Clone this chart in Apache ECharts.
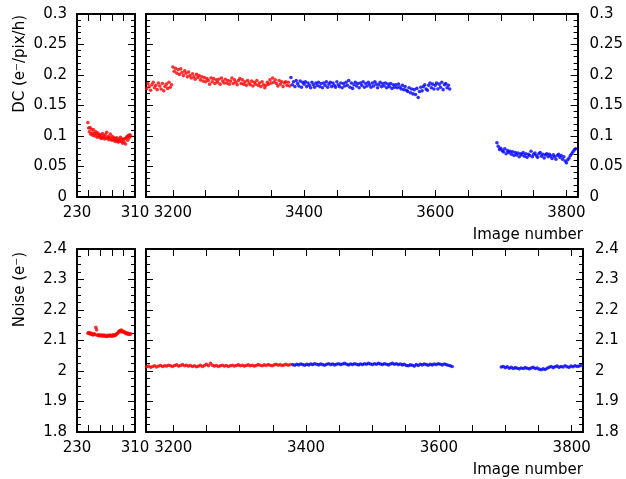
<!DOCTYPE html>
<html><head><meta charset="utf-8">
<script src="https://cdn.jsdelivr.net/npm/echarts@6/dist/echarts.min.js"></script>
<style>html,body{margin:0;padding:0;background:#fff}#c{width:626px;height:479px}</style>
</head><body><div id="c"></div>
<script>
const FONT = 'DejaVu Sans';

// ---- Image-number sequences (first image, step between plotted images) ----
const leftStart = 245, leftStep = 1;
const redRightStart = 3160;
const blueRightStart = 3380;
const blue2Start = 3694;
const dcStep = 2, noiseStep = 3;

// ---- Dark current (e-/pix/h) ----
const dcLeftRed = [
  0.122,0.113,0.107,0.114,0.103,0.111,0.105,0.101,0.110,0.104,
  0.100,0.107,0.103,0.098,0.105,0.100,0.102,0.097,0.101,0.096,
  0.104,0.098,0.100,0.095,0.102,0.097,0.106,0.096,0.099,0.094,
  0.098,0.103,0.095,0.093,0.099,0.094,0.097,0.092,0.096,0.091,
  0.097,0.093,0.090,0.095,0.092,0.098,0.091,0.095,0.088,0.094,
  0.090,0.096,0.087,0.097,0.099,0.093,0.101,0.097,0.102,0.100];
const dcRightRed = [
  0.178,0.186,0.181,0.175,0.184,0.188,0.179,0.183,0.176,0.187,
  0.182,0.177,0.186,0.174,0.181,0.185,0.178,0.188,0.180,0.184,
  0.213,0.206,0.211,0.203,0.209,0.201,0.210,0.204,0.199,0.207,
  0.203,0.197,0.205,0.199,0.195,0.202,0.197,0.193,0.201,0.196,
  0.199,0.192,0.197,0.190,0.196,0.189,0.194,0.191,0.185,0.195,
  0.189,0.194,0.186,0.192,0.188,0.193,0.185,0.195,0.190,0.187,
  0.193,0.187,0.191,0.185,0.190,0.195,0.186,0.192,0.188,0.184,
  0.191,0.194,0.186,0.192,0.185,0.189,0.183,0.191,0.187,0.184,
  0.190,0.182,0.188,0.185,0.191,0.183,0.187,0.181,0.189,0.184,
  0.179,0.183,0.188,0.185,0.192,0.187,0.195,0.188,0.192,0.186,
  0.182,0.191,0.185,0.189,0.181,0.187,0.189,0.183,0.188,0.182];
const dcRightBlue = [
  0.196,0.184,0.189,0.181,0.191,0.186,0.182,0.190,0.180,0.188,
  0.185,0.189,0.181,0.187,0.183,0.179,0.188,0.184,0.180,0.187,
  0.183,0.188,0.181,0.186,0.179,0.187,0.183,0.189,0.180,0.185,
  0.188,0.181,0.187,0.183,0.180,0.189,0.184,0.181,0.187,0.179,
  0.186,0.182,0.188,0.183,0.191,0.180,0.187,0.178,0.184,0.188,
  0.182,0.186,0.179,0.187,0.183,0.189,0.180,0.186,0.182,0.188,
  0.184,0.180,0.187,0.182,0.189,0.185,0.179,0.184,0.188,0.181,
  0.186,0.182,0.187,0.179,0.185,0.181,0.186,0.178,0.184,0.180,
  0.184,0.179,0.185,0.180,0.177,0.183,0.176,0.181,0.175,0.173,
  0.179,0.171,0.177,0.169,0.176,0.168,0.178,0.163,0.173,0.180,
  0.174,0.181,0.184,0.177,0.175,0.183,0.187,0.179,0.185,0.177,
  0.183,0.187,0.177,0.185,0.180,0.188,0.176,0.184,0.186,0.179,
  0.183,0.177];
const dcRightBlue2 = [
  0.089,0.083,0.078,0.080,0.076,0.074,0.079,0.071,0.076,0.073,
  0.075,0.070,0.074,0.068,0.073,0.069,0.072,0.066,0.071,0.069,
  0.073,0.067,0.071,0.065,0.070,0.068,0.075,0.066,0.070,0.072,
  0.068,0.065,0.071,0.073,0.067,0.070,0.064,0.069,0.071,0.066,
  0.070,0.067,0.063,0.069,0.066,0.062,0.068,0.070,0.065,0.068,
  0.062,0.066,0.059,0.056,0.061,0.064,0.068,0.071,0.074,0.077,
  0.079];

// ---- Noise (e-) ----
const noiseLeftRed = [
  2.124,2.126,2.122,2.125,2.121,2.123,2.120,2.118,2.121,2.122,
  2.119,2.143,2.135,2.118,2.116,2.119,2.117,2.115,2.118,2.116,
  2.117,2.114,2.118,2.116,2.115,2.113,2.117,2.115,2.114,2.116,
  2.118,2.115,2.117,2.114,2.116,2.119,2.115,2.118,2.117,2.120,
  2.122,2.124,2.127,2.130,2.132,2.129,2.134,2.131,2.128,2.130,
  2.126,2.128,2.124,2.122,2.125,2.121,2.123,2.120,2.122,2.121];
const noiseRightRed = [
  2.014,2.016,2.012,2.015,2.017,2.013,2.016,2.018,2.015,2.017,
  2.016,2.019,2.017,2.015,2.018,2.020,2.016,2.018,2.021,2.017,
  2.019,2.016,2.018,2.015,2.017,2.014,2.016,2.019,2.015,2.018,
  2.022,2.017,2.025,2.019,2.016,2.018,2.015,2.017,2.019,2.016,
  2.018,2.015,2.017,2.019,2.016,2.018,2.020,2.017,2.019,2.016,
  2.018,2.020,2.017,2.019,2.016,2.018,2.021,2.019,2.017,2.020,
  2.018,2.021,2.019,2.017,2.020,2.022,2.019,2.021,2.018,2.020,
  2.022,2.019,2.021];
const noiseRightBlue = [
  2.021,2.019,2.022,2.020,2.023,2.021,2.019,2.022,2.020,2.023,
  2.021,2.024,2.022,2.020,2.023,2.021,2.019,2.022,2.024,2.021,
  2.023,2.020,2.022,2.024,2.021,2.023,2.025,2.022,2.020,2.023,
  2.021,2.024,2.022,2.020,2.023,2.021,2.024,2.022,2.025,2.023,
  2.021,2.024,2.022,2.025,2.023,2.021,2.024,2.022,2.020,2.023,
  2.025,2.022,2.024,2.021,2.023,2.020,2.022,2.018,2.017,2.020,
  2.019,2.016,2.021,2.018,2.022,2.020,2.023,2.021,2.019,2.022,
  2.020,2.023,2.021,2.024,2.022,2.020,2.023,2.021,2.019,2.017,
  2.015];
const noiseRightBlue2 = [
  2.013,2.015,2.011,2.014,2.009,2.012,2.008,2.011,2.009,2.007,
  2.010,2.008,2.011,2.009,2.007,2.010,2.012,2.008,2.010,2.006,
  2.004,2.007,2.005,2.009,2.012,2.015,2.011,2.014,2.016,2.012,
  2.015,2.013,2.017,2.014,2.012,2.016,2.014,2.017,2.015,2.016,
  2.018];

// ---- Axis ticks and labels ----
const leftXTicks = [230,246,262,278,294,310];
const leftXLabels = [230,310];
const rightXTicks = [3200,3250,3300,3350,3400,3450,3500,3550,3600,3650,3700,3750,3800];
const rightXLabels = [3200,3400,3600,3800];
const xTitle = 'Image number';
const dcTitle = 'DC (e\u207B/pix/h)';
const noiseTitle = 'Noise (e\u207B)';

function pts(start, step, vals){ return vals.map((v,i)=>[start+i*step, v]); }

const labelStyle = {color:'#000', fontFamily:FONT, fontSize:15};

function xAxes(gi, min, max, ticks, labels){
  const base = {type:'value', gridIndex:gi, min:min, max:max, splitLine:{show:false},
    axisLine:{show:true, onZero:false, lineStyle:{color:'#000', width:2}},
    axisTick:{show:true, inside:true, length:7, customValues:ticks, lineStyle:{color:'#000', width:1}}};
  return [
    Object.assign({}, base, {position:'bottom', axisLabel:Object.assign({show:true, customValues:labels, margin:9, formatter:function(v){return String(v);}}, labelStyle)}),
    Object.assign({}, base, {position:'top', axisLabel:{show:false}})
  ];
}
function yAxes(gi, min, max, interval, minor, side){
  const base = {type:'value', gridIndex:gi, min:min, max:max, interval:interval, splitLine:{show:false},
    axisLine:{show:true, onZero:false, lineStyle:{color:'#000', width:2}},
    axisTick:{show:true, inside:true, length:7, lineStyle:{color:'#000', width:1}},
    minorTick:{show:true, splitNumber:minor, length:4, lineStyle:{color:'#000', width:1}},
    minorSplitLine:{show:false}};
  return [
    Object.assign({}, base, {position:'left', axisLabel:Object.assign({show:side==='left', margin:10}, labelStyle)}),
    Object.assign({}, base, {position:'right', axisLabel:Object.assign({show:side==='right', margin:12}, labelStyle)})
  ];
}

const grids = [
  {left:77, top:14, width:58, height:183},
  {left:146, top:14, width:437, height:183},
  {left:77, top:249, width:58, height:183},
  {left:146, top:249, width:437, height:183}
];

const xAxis = [].concat(
  xAxes(0, 230, 310, leftXTicks, leftXLabels),
  xAxes(1, 3159, 3817, rightXTicks, rightXLabels),
  xAxes(2, 230, 310, leftXTicks, leftXLabels),
  xAxes(3, 3159, 3817, rightXTicks, rightXLabels)
);
const yAxis = [].concat(
  yAxes(0, 0, 0.3, 0.05, 5, 'left'),
  yAxes(1, 0, 0.3, 0.05, 5, 'right'),
  yAxes(2, 1.8, 2.4, 0.1, 4, 'left'),
  yAxes(3, 1.8, 2.4, 0.1, 4, 'right')
);

function sc(gi, color, data){
  return {type:'scatter', xAxisIndex:gi*2, yAxisIndex:gi*2, symbol:'circle', symbolSize:3.6,
    itemStyle:{color:color}, data:data, silent:true};
}
const RED = '#ff0000', BLUE = '#0000ff';
const series = [
  sc(0, RED, pts(leftStart, leftStep, dcLeftRed)),
  sc(1, RED, pts(redRightStart, dcStep, dcRightRed)),
  sc(1, BLUE, pts(blueRightStart, dcStep, dcRightBlue)),
  sc(1, BLUE, pts(blue2Start, dcStep, dcRightBlue2)),
  sc(2, RED, pts(leftStart, leftStep, noiseLeftRed)),
  sc(3, RED, pts(redRightStart, noiseStep, noiseRightRed)),
  sc(3, BLUE, pts(blueRightStart, noiseStep, noiseRightBlue)),
  sc(3, BLUE, pts(blue2Start, noiseStep, noiseRightBlue2))
];

const font = '15px "' + FONT + '"';
const graphic = [
  {type:'text', x:583, y:235, style:{text:xTitle, font:font, fill:'#000', align:'right', verticalAlign:'middle'}},
  {type:'text', x:583, y:470, style:{text:xTitle, font:font, fill:'#000', align:'right', verticalAlign:'middle'}},
  {type:'text', x:20, y:15, rotation:Math.PI/2, style:{text:dcTitle, font:font, fill:'#000', align:'right', verticalAlign:'middle'}},
  {type:'text', x:20, y:252, rotation:Math.PI/2, style:{text:noiseTitle, font:font, fill:'#000', align:'right', verticalAlign:'middle'}}
];

const chart = echarts.init(document.getElementById('c'), null, {renderer:'canvas'});
chart.setOption({animation:false, backgroundColor:'#fff', grid:grids, xAxis:xAxis, yAxis:yAxis, series:series, graphic:graphic});
</script></body></html>
